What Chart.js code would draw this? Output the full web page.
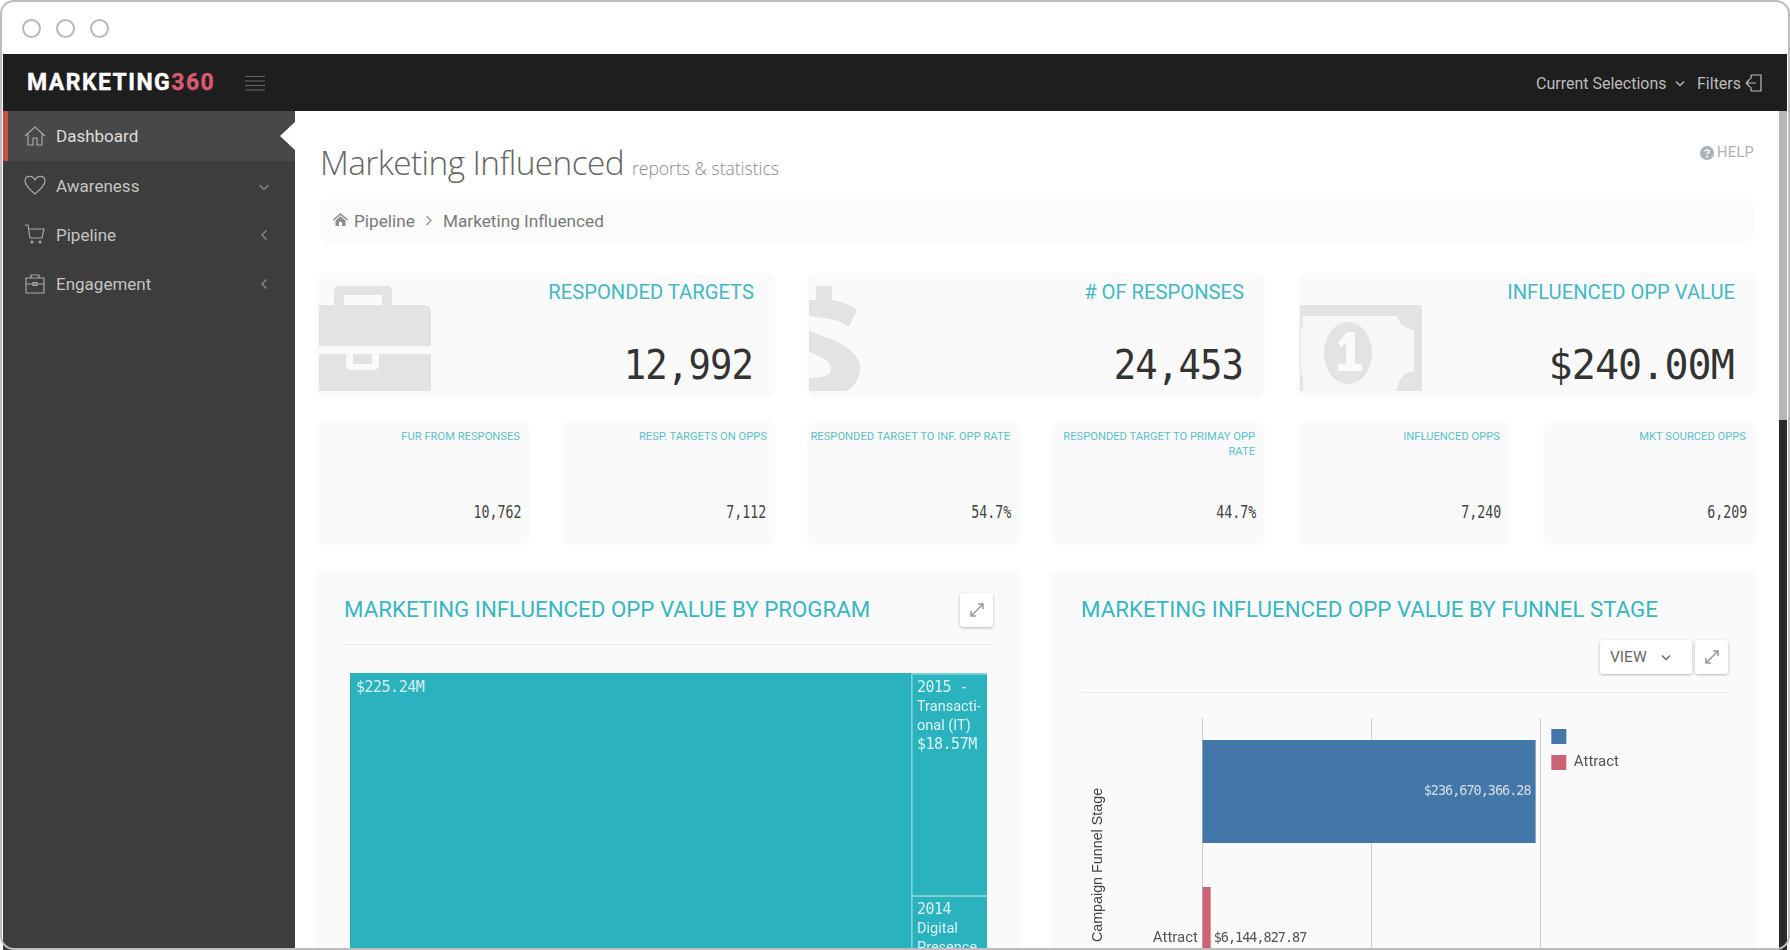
<!DOCTYPE html>
<html>
<head>
<meta charset="utf-8">
<title>Marketing Influenced</title>
<script src="https://cdn.jsdelivr.net/npm/chart.js"></script>
<style>
  html, body { margin: 0; padding: 0; width: 1790px; height: 950px; overflow: hidden; background: #fff; font-family: Roboto, sans-serif; }
  .abs { position: absolute; }
  #frame { position: absolute; left: 0; top: 0; width: 1790px; height: 950px; overflow: hidden; }
  #frameBorder { position: absolute; left: 0; top: 0; width: 1786px; height: 946px; border: 2px solid #bdbdbd; border-radius: 14px; pointer-events: none; z-index: 20; }
  .dot { position: absolute; top: 19px; width: 15px; height: 15px; border: 2px solid #b8b8b8; border-radius: 50%; }
  #topbar { position: absolute; left: 3px; top: 54px; width: 1784px; height: 57px; background: #1e1e1e; }
  #side { position: absolute; left: 3px; top: 111px; width: 292px; height: 839px; background: #3d3d3d; }
  #active { position: absolute; left: 0; top: 0; width: 292px; height: 50px; background: #484848; }
  #active:before { content: ""; position: absolute; left: 0; top: 0; width: 5px; height: 50px; background: #c9503c; }
  #active:after { content: ""; position: absolute; right: 0; top: 11px; border: 14px solid transparent; border-right: 15px solid #fff; border-left: 0; }
  .nav { position: absolute; left: 53px; color: #c4c4c4; font-size: 17px; line-height: 20px; }
  .navIcon { position: absolute; left: 21px; width: 22px; height: 22px; fill: none; stroke: #a8a8a8; stroke-width: 1.2; }
  .chev { position: absolute; left: 256px; width: 10px; height: 12px; fill: none; stroke: #8a8a8a; stroke-width: 1.4; }
  #logo { position: absolute; left: 27px; top: 69px; font: 700 23px/28px Roboto; letter-spacing: 1.45px; color: #fff; -webkit-text-stroke: .4px currentColor; }
  #logo span { color: #d65a70; }
  .card { position: absolute; background: #fafafa; border-radius: 8px; overflow: hidden; }
  .bigTitle { position: absolute; right: 21px; top: 7px; font-size: 20.2px; line-height: 24px; color: #45b8c4; font-weight: 400; white-space: nowrap; }
  .bigVal { position: absolute; right: 22px; top: 68px; font: 40px/48px "DejaVu Sans Mono"; color: #333; transform: scaleX(.93); transform-origin: right center; letter-spacing: -0.9px; }
  .smallTitle { position: absolute; right: 10px; top: 7px; left: 8px; text-align: right; font-size: 11.2px; line-height: 15px; color: #5cbfca; }
  .smallVal { position: absolute; right: 9px; top: 79px; font: 17px/22px "DejaVu Sans Mono"; color: #444; transform: scaleX(.78); transform-origin: right center; }
  .panelTitle { position: absolute; top: 596px; font-size: 22.3px; line-height: 26px; font-weight: 400; color: #38b6c2; white-space: nowrap; }
  .rule { position: absolute; height: 1px; background: #ececec; }
  .btn { position: absolute; background: #fff; border-radius: 3px; box-shadow: 0 1px 3px rgba(0,0,0,.28); }
  .btn svg { position: absolute; left: 9px; top: 9px; width: 16px; height: 16px; fill: none; stroke: #9a9a9a; stroke-width: 1.5; }
</style>
</head>
<body>
<div id="frame">
  <div class="dot" style="left:22px"></div>
  <div class="dot" style="left:56px"></div>
  <div class="dot" style="left:90px"></div>

  <div id="topbar"></div>
  <div id="logo">MARKETING<span>360</span></div>
  <svg class="abs" style="left:245px;top:75px" width="20" height="17" stroke="#666" stroke-width="1.2"><path d="M0 1.5H20M0 6H20M0 10.5H20M0 15H20"/></svg>
  <div class="abs" style="left:1536px;top:74px;color:#bcbcbc;font-size:16px;line-height:20px;white-space:nowrap">Current Selections</div>
  <svg class="abs" style="left:1675px;top:80px" width="10" height="8" fill="none" stroke="#bcbcbc" stroke-width="1.3"><path d="M1 1.5L5 5.5L9 1.5"/></svg>
  <div class="abs" style="left:1697px;top:74px;color:#bcbcbc;font-size:16px;line-height:20px">Filters</div>
  <svg class="abs" style="left:1745px;top:74px" width="18" height="18" fill="none" stroke="#bcbcbc" stroke-width="1.2"><path d="M6 1H16V17H6M6 1V5M6 17V13M1 9H11M1 9L5 5M1 9L5 13"/></svg>

  <div id="side">
    <div id="active"></div>
    <svg class="navIcon" style="top:14px" viewBox="0 0 22 22"><path d="M1 11L11 2L21 11M4 9V20H9V13H13V20H18V9"/></svg>
    <div class="nav" style="top:15px;color:#dedede">Dashboard</div>
    <svg class="navIcon" style="top:63px" viewBox="0 0 22 22"><path d="M11 20C5 15 1 11 1 7C1 2 8 0 11 6C14 0 21 2 21 7C21 11 17 15 11 20Z"/></svg>
    <div class="nav" style="top:65px">Awareness</div>
    <svg class="chev" style="top:70px" viewBox="0 0 10 12"><path d="M0.5 4L5 8.5L9.5 4"/></svg>
    <svg class="navIcon" style="top:113px" viewBox="0 0 22 22"><path d="M1 1H4L6 14H18L20 5H5"/><circle cx="8" cy="18" r="1"/><circle cx="16" cy="18" r="1"/></svg>
    <div class="nav" style="top:114px">Pipeline</div>
    <svg class="chev" style="top:118px" viewBox="0 0 10 12"><path d="M7.5 1.5L3 6L7.5 10.5"/></svg>
    <svg class="navIcon" style="top:162px" viewBox="0 0 22 22"><path d="M2 5H20V20H2ZM7 5V2H15V5M2 11H20M9 9.5H13V12.5H9Z"/></svg>
    <div class="nav" style="top:163px">Engagement</div>
    <svg class="chev" style="top:167px" viewBox="0 0 10 12"><path d="M7.5 1.5L3 6L7.5 10.5"/></svg>
  </div>

  <div class="abs" style="left:320px;top:140px;font:300 33.4px/44px 'Open Sans';color:#666;white-space:nowrap;letter-spacing:-.6px">Marketing Influenced</div>
  <div class="abs" style="left:632px;top:157px;font:300 17.5px/22px 'Open Sans';color:#8a8a8a;white-space:nowrap">reports &amp; statistics</div>
  <svg class="abs" style="left:1700px;top:146px" width="14" height="14" viewBox="0 0 14 14"><circle cx="7" cy="7" r="7" fill="#aab2b8"/><path d="M4.8 5.4C5 3.4 9 3.4 9.2 5.4C9.2 7 7 6.8 7 8.4" fill="none" stroke="#fff" stroke-width="1.5"/><circle cx="7" cy="10.7" r="1" fill="#fff"/></svg>
  <div class="abs" style="left:1717px;top:144px;color:#aab2b8;font-size:14.5px;line-height:18px;letter-spacing:.4px">HELP</div>

  <div class="card" style="left:320px;top:199px;width:1434px;height:43px;background:#fbfbfb"></div>
  <svg class="abs" style="left:333px;top:213px" width="15" height="13" viewBox="0 0 15 13" fill="#8e8e8e"><path d="M7.5 0L15 6.5L14 7.5L7.5 2L1 7.5L0 6.5ZM2.5 7.5L7.5 3.2L12.5 7.5V13H9V9H6V13H2.5Z"/></svg>
  <div class="abs" style="left:354px;top:211px;color:#7a7a7a;font-size:17.2px;line-height:20px">Pipeline</div>
  <svg class="abs" style="left:425px;top:215px" width="8" height="11" fill="none" stroke="#8e8e8e" stroke-width="1.2"><path d="M1.5 1L6 5.5L1.5 10"/></svg>
  <div class="abs" style="left:443px;top:211px;color:#7a7a7a;font-size:17.2px;line-height:20px;white-space:nowrap">Marketing Influenced</div>

  <div class="card" style="left:317px;top:273px;width:458px;height:124px">
    <svg class="abs" style="left:2px;top:13px" width="112" height="105" viewBox="0 0 112 105" fill="#e3e3e3"><path d="M15 19V5Q15 0 20 0H68Q73 0 73 5V19H63V9H25V19Z"/><path d="M0 19H106Q112 19 112 26V60H0Z"/><path d="M0 68H27V78Q27 84 33 84H54Q60 84 60 78V68H112V105H0Z"/><rect x="34" y="68" width="19" height="10"/></svg>
    <div class="bigTitle">RESPONDED TARGETS</div>
    <div class="bigVal">12,992</div>
  </div>
  <div class="card" style="left:807px;top:273px;width:458px;height:124px">
    <svg class="abs" style="left:2px;top:13px" width="52" height="105" viewBox="0 0 52 105" fill="#e3e3e3"><path d="M7 0H23V14C34 16 42 19 48 24L40 41C33 36 25 33 15 32C8 31 0 30 0 30V14H7Z"/><path d="M0 44C14 52 48 58 51 80C52 92 44 102 37 105H0V92C12 92 22 90 22 82C22 74 6 68 0 66Z"/></svg>
    <div class="bigTitle">&#35; OF RESPONSES</div>
    <div class="bigVal">24,453</div>
  </div>
  <div class="card" style="left:1298px;top:273px;width:458px;height:124px">
    <svg class="abs" style="left:2px;top:32px" width="122" height="86" viewBox="0 0 122 86" fill="#e3e3e3"><path d="M0 0H120Q122 0 122 3V86H0Z"/><path d="M3 11H97C99 18 104 23 114 25V66C104 67 99 74 96 86H3C3 76 3 72 1 66V25C3 20 3 16 3 11Z" fill="#f7f7f7"/><ellipse cx="48" cy="48" rx="24" ry="31"/><path d="M38 38L47 27H55V59H62V66H38V59H46V37L41 43Z" fill="#fafafa"/></svg>
    <div class="bigTitle">INFLUENCED OPP VALUE</div>
    <div class="bigVal" style="transform:none">$240.00M</div>
  </div>

  <div class="card" style="left:317px;top:422px;width:213px;height:123px"><div class="smallTitle">FUR FROM RESPONSES</div><div class="smallVal">10,762</div></div>
  <div class="card" style="left:562px;top:422px;width:213px;height:123px"><div class="smallTitle" style="right:8px">RESP. TARGETS ON OPPS</div><div class="smallVal">7,112</div></div>
  <div class="card" style="left:807px;top:422px;width:213px;height:123px"><div class="smallTitle" style="left:2px">RESPONDED TARGET TO INF. OPP RATE</div><div class="smallVal">54.7%</div></div>
  <div class="card" style="left:1052px;top:422px;width:213px;height:123px"><div class="smallTitle">RESPONDED TARGET TO PRIMAY OPP RATE</div><div class="smallVal">44.7%</div></div>
  <div class="card" style="left:1299px;top:422px;width:211px;height:123px"><div class="smallTitle">INFLUENCED OPPS</div><div class="smallVal">7,240</div></div>
  <div class="card" style="left:1543px;top:422px;width:213px;height:123px"><div class="smallTitle">MKT SOURCED OPPS</div><div class="smallVal">6,209</div></div>

  <div class="card" style="left:316px;top:570px;width:704px;height:520px"></div>
  <div class="card" style="left:1051px;top:570px;width:705px;height:520px"></div>

  <div class="panelTitle" style="left:344px">MARKETING INFLUENCED OPP VALUE BY PROGRAM</div>
  <div class="btn" style="left:960px;top:593px;width:33px;height:34px"><svg viewBox="0 0 16 16"><path d="M2 14L14 2M9 2H14V7M2 9V14H7"/></svg></div>
  <div class="rule" style="left:344px;top:644px;width:648px"></div>

  <div class="panelTitle" style="left:1081px">MARKETING INFLUENCED OPP VALUE BY FUNNEL STAGE</div>
  <div class="btn" style="left:1600px;top:640px;width:92px;height:34px"></div>
  <div class="abs" style="left:1610px;top:647px;color:#666;font-size:15.5px;line-height:20px">VIEW</div>
  <svg class="abs" style="left:1661px;top:654px" width="10" height="8" fill="none" stroke="#666" stroke-width="1.3"><path d="M1 1.5L5 5.5L9 1.5"/></svg>
  <div class="btn" style="left:1695px;top:640px;width:33px;height:34px"><svg viewBox="0 0 16 16"><path d="M2 14L14 2M9 2H14V7M2 9V14H7"/></svg></div>
  <div class="rule" style="left:1081px;top:692px;width:647px"></div>

  <div class="abs" id="programWrap" style="left:350px;top:673px;width:637px;height:366px;display:flex">
    <div id="programBigBox" style="position:relative;min-width:0"><canvas id="programBig"></canvas></div>
    <div id="programRestBox" style="position:relative;min-width:0"><canvas id="programRest"></canvas></div>
  </div>

  <div class="abs" style="left:1085px;top:705px;width:544px;height:330px"><canvas id="funnelChart"></canvas></div>

  <div class="abs" style="left:1779px;top:111px;width:8px;height:309px;background:#b7b7b7"></div>
  <div class="abs" style="left:1779px;top:420px;width:8px;height:530px;background:#2a2a2a"></div>
  <div id="frameBorder"></div>
</div>

<script>
// Treemap cells, in $M
const programLabel = ['$225.24M'];
const programValue = [225.24];
const restLabels = [
  ['2015 -', 'Transacti-', 'onal (IT)', '$18.57M'],
  ['2014', 'Digital', 'Presence', '$12.01M']
];
const restValues = [18.57, 12.01];

// Funnel bars
const funnelLabels = ['', 'Attract'];
const funnelValues = [236670366.28, 6144827.87];
const funnelText = ['$236,670,366.28', '$6,144,827.87'];
const funnelColors = ['#4376a9', '#cd6274'];

const monoFont = '15px "DejaVu Sans Mono"';
const textFont = '14.5px Roboto';
const restTotal = restValues.reduce((a, b) => a + b, 0);

// the treemap columns get their widths from the values
document.getElementById('programBigBox').style.flex = programValue[0] + ' 1 0';
document.getElementById('programRestBox').style.flex = restTotal + ' 1 0';

const hiddenScale = { display: false, grid: { display: false } };

// writes the cell captions inside the bars
const cellCaptions = {
  id: 'cellCaptions',
  afterDatasetsDraw(chart, args, opts) {
    const ctx = chart.ctx;
    chart.data.datasets.forEach((ds, i) => {
      const bar = chart.getDatasetMeta(i).data[0];
      const top = Math.min(bar.y, bar.base);
      ctx.save();
      ctx.fillStyle = '#dcf2f4';
      ctx.textBaseline = 'middle';
      opts.lines[i].forEach((line, n) => {
        // numbers are in the mono face, words are not
        const isMono = /^[$\d]/.test(line);
        ctx.font = isMono ? monoFont : textFont;
        ctx.letterSpacing = isMono ? '-0.5px' : '0px';
        ctx.fillText(line, bar.x - bar.width / 2 + opts.padX, top + 15 + n * 19);
      });
      ctx.restore();
    });
  }
};

new Chart(document.getElementById('programBig'), {
  type: 'bar',
  data: {
    labels: ['Program'],
    datasets: [{ data: programValue, backgroundColor: '#2ab3bf', barPercentage: 1, categoryPercentage: 1 }]
  },
  options: {
    responsive: true,
    maintainAspectRatio: false,
    animation: false,
    layout: { padding: 0 },
    scales: { x: hiddenScale, y: { display: false, min: 0, max: programValue[0] } },
    plugins: { legend: { display: false }, tooltip: { enabled: false }, cellCaptions: { lines: [programLabel], padX: 6 } }
  },
  plugins: [cellCaptions]
});

new Chart(document.getElementById('programRest'), {
  type: 'bar',
  data: {
    labels: ['Other'],
    datasets: restValues.map(v => ({
      data: [v], backgroundColor: '#2ab3bf', borderColor: '#7fd2d9', borderWidth: { left: 2, top: 2 },
      borderSkipped: false, barPercentage: 1, categoryPercentage: 1
    }))
  },
  options: {
    responsive: true,
    maintainAspectRatio: false,
    animation: false,
    layout: { padding: 0 },
    scales: { x: { display: false, stacked: true }, y: { display: false, stacked: true, reverse: true, min: 0, max: restTotal } },
    plugins: { legend: { display: false }, tooltip: { enabled: false }, cellCaptions: { lines: restLabels, padX: 6 } }
  },
  plugins: [cellCaptions]
});

// value labels on the funnel bars, and the legend nudged down to its place
const funnelValueText = {
  id: 'funnelValueText',
  afterLayout(chart) {
    chart.legend.top += 3;
    chart.legend.bottom += 3;
  },
  afterDatasetsDraw(chart) {
    const ctx = chart.ctx;
    const bars = chart.getDatasetMeta(0).data;
    ctx.save();
    ctx.font = '13.5px "DejaVu Sans Mono"';
    ctx.letterSpacing = '-1px';
    ctx.textBaseline = 'middle';
    bars.forEach((bar, i) => {
      const inside = bar.x - bar.base > 200;
      ctx.fillStyle = inside ? '#d7dfe8' : '#555';
      ctx.textAlign = inside ? 'right' : 'left';
      ctx.fillText(funnelText[i], inside ? bar.x - 5 : bar.x + 3, bar.y);
    });
    ctx.restore();
  }
};

new Chart(document.getElementById('funnelChart'), {
  type: 'bar',
  data: {
    labels: funnelLabels,
    datasets: [{ data: funnelValues, backgroundColor: funnelColors, barPercentage: 0.7, categoryPercentage: 1 }]
  },
  options: {
    indexAxis: 'y',
    responsive: true,
    maintainAspectRatio: false,
    animation: false,
    layout: { padding: { top: 10, bottom: 23, right: 0 } },
    scales: {
      x: {
        min: 0, max: 240000000,
        afterFit(scale) { scale.height = 0; },
        ticks: { stepSize: 120000000, display: false },
        grid: { color: '#cfcfcf', drawTicks: false },
        border: { display: false }
      },
      y: {
        // plot starts where the reference has its first gridline
        afterFit(scale) { scale.width = 117; },
        grid: { display: false, drawTicks: false },
        border: { display: false },
        ticks: { color: '#555', font: { family: 'Roboto', size: 15 }, padding: 4 },
        title: { display: true, text: 'Campaign Funnel Stage', color: '#444', font: { family: 'Liberation Sans', size: 14.3 }, padding: { top: 4, bottom: 26 } }
      }
    },
    plugins: {
      tooltip: { enabled: false },
      legend: {
        position: 'right',
        align: 'start',
        onClick: null,
        labels: {
          boxWidth: 15, boxHeight: 15, padding: 11,
          color: '#555', font: { family: 'Roboto', size: 15 },
          generateLabels: () => funnelLabels.map((l, i) => ({ text: l, fillStyle: funnelColors[i], strokeStyle: funnelColors[i], lineWidth: 0, fontColor: '#555' }))
        }
      }
    }
  },
  plugins: [funnelValueText]
});
</script>
</body>
</html>
